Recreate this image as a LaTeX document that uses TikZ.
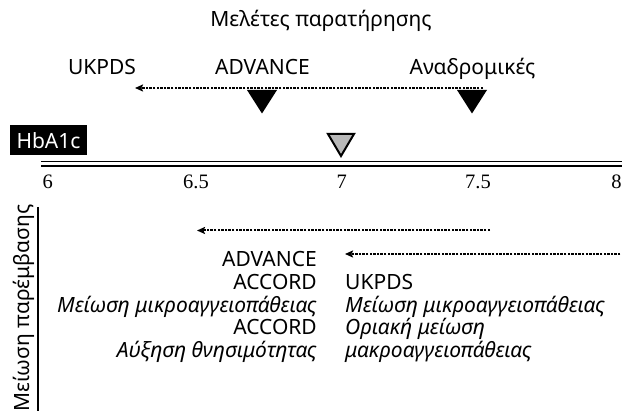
\documentclass[tikz,border=0pt]{standalone}
\usepackage{fontspec}
\setmainfont{Noto Sans}
\newfontfamily\numfont{Liberation Serif}
\usetikzlibrary{arrows.meta}
\tikzset{
  lbl/.style={inner sep=0pt, font=\fontsize{21}{24}\selectfont},
  ilbl/.style={lbl, font=\fontsize{21}{24}\selectfont\itshape},
  num/.style={inner sep=0pt, anchor=base, font=\numfont\fontsize{20.5}{24}\selectfont},
  dotarrow/.style={line width=2pt, dash pattern=on 2.4pt off 1.2pt,
    -{Stealth[length=8pt,width=7pt,inset=1.5pt]}},
  blacktri/.style={fill=black},
  graytri/.style={fill=black!28, draw=black, line width=2pt, line join=miter},
  axisline/.style={line width=1.4pt}
}
\begin{document}
\begin{tikzpicture}[x=1pt,y=-1pt]
\useasboundingbox (0,0) rectangle (622,411);

% heading
\node[lbl, anchor=base] (title) at (321,26.7) {Μελέτες παρατήρησης};

% observational studies
\node[lbl, anchor=base] (ukTop) at (102,75) {UKPDS};
\node[lbl, anchor=base] (advTop) at (262.5,75) {ADVANCE};
\node[lbl, anchor=base] (retro) at (472.5,75) {Αναδρομικές};
\coordinate (obsStart) at (483,88);
\coordinate (obsEnd) at (135,88);
\draw[dotarrow] (obsStart) -- (obsEnd);

% markers above the HbA1c scale
\coordinate (m1) at (262,90);
\coordinate (m2) at (472,90);
\coordinate (m3) at (341,134);
\fill[blacktri] (m1) ++(-15,0) -- ++(30,0) -- ++(-15,23.5) -- cycle;
\fill[blacktri] (m2) ++(-15,0) -- ++(30,0) -- ++(-15,23.5) -- cycle;
\draw[graytri] (m3) ++(-13,0) -- ++(26,0) -- ++(-13,22) -- cycle;

% HbA1c scale
\node[fill=black, text=white, inner sep=0pt, minimum width=77pt, minimum height=30pt,
      font=\fontsize{21}{24}\selectfont] (hba) at (48.5,140.5) {HbA1c};
\coordinate (axL1) at (41,161.8);
\coordinate (axR1) at (622,161.8);
\coordinate (axL2) at (41,166.2);
\coordinate (axR2) at (622,166.2);
\draw[axisline] (axL1) -- (axR1);
\draw[axisline] (axL2) -- (axR2);
\node[num] (n60) at (47.7,189) {6};
\node[num] (n65) at (196,189) {6.5};
\node[num] (n70) at (341.7,189) {7};
\node[num] (n75) at (478,189) {7.5};
\node[num] (n80) at (616.5,189) {8};

% intervention studies
\node[lbl, rotate=90, anchor=base] (interv) at (29,308) {Μείωση παρέμβασης};
\coordinate (ivTop) at (38,207);
\coordinate (ivBot) at (38,411);
\draw[line width=1.3pt] (ivTop) -- (ivBot);

\coordinate (a1Start) at (490,230.5);
\coordinate (a1End) at (197,230.5);
\draw[dotarrow] (a1Start) -- (a1End);
\coordinate (a2Start) at (624,254);
\coordinate (a2End) at (345,254);
\draw[dotarrow] (a2Start) -- (a2End);

% left column, right aligned
\node[lbl, anchor=base east] (advB) at (317,267) {ADVANCE};
\node[lbl, anchor=base east] (accB1) at (317,290) {ACCORD};
\node[ilbl, anchor=base east] (microL) at (317,312.5) {Μείωση μικροαγγειοπάθειας};
\node[lbl, anchor=base east] (accB2) at (317,335) {ACCORD};
\node[ilbl, anchor=base east] (mort) at (317,357.5) {Αύξηση θνησιμότητας};

% right column, left aligned
\node[lbl, anchor=base west] (ukB) at (345,290) {UKPDS};
\node[ilbl, anchor=base west] (microR) at (345,312.5) {Μείωση μικροαγγειοπάθειας};
\node[ilbl, anchor=base west] (marg) at (345,335) {Οριακή μείωση};
\node[ilbl, anchor=base west] (macro) at (345,357.5) {μακροαγγειοπάθειας};
\end{tikzpicture}
\end{document}
